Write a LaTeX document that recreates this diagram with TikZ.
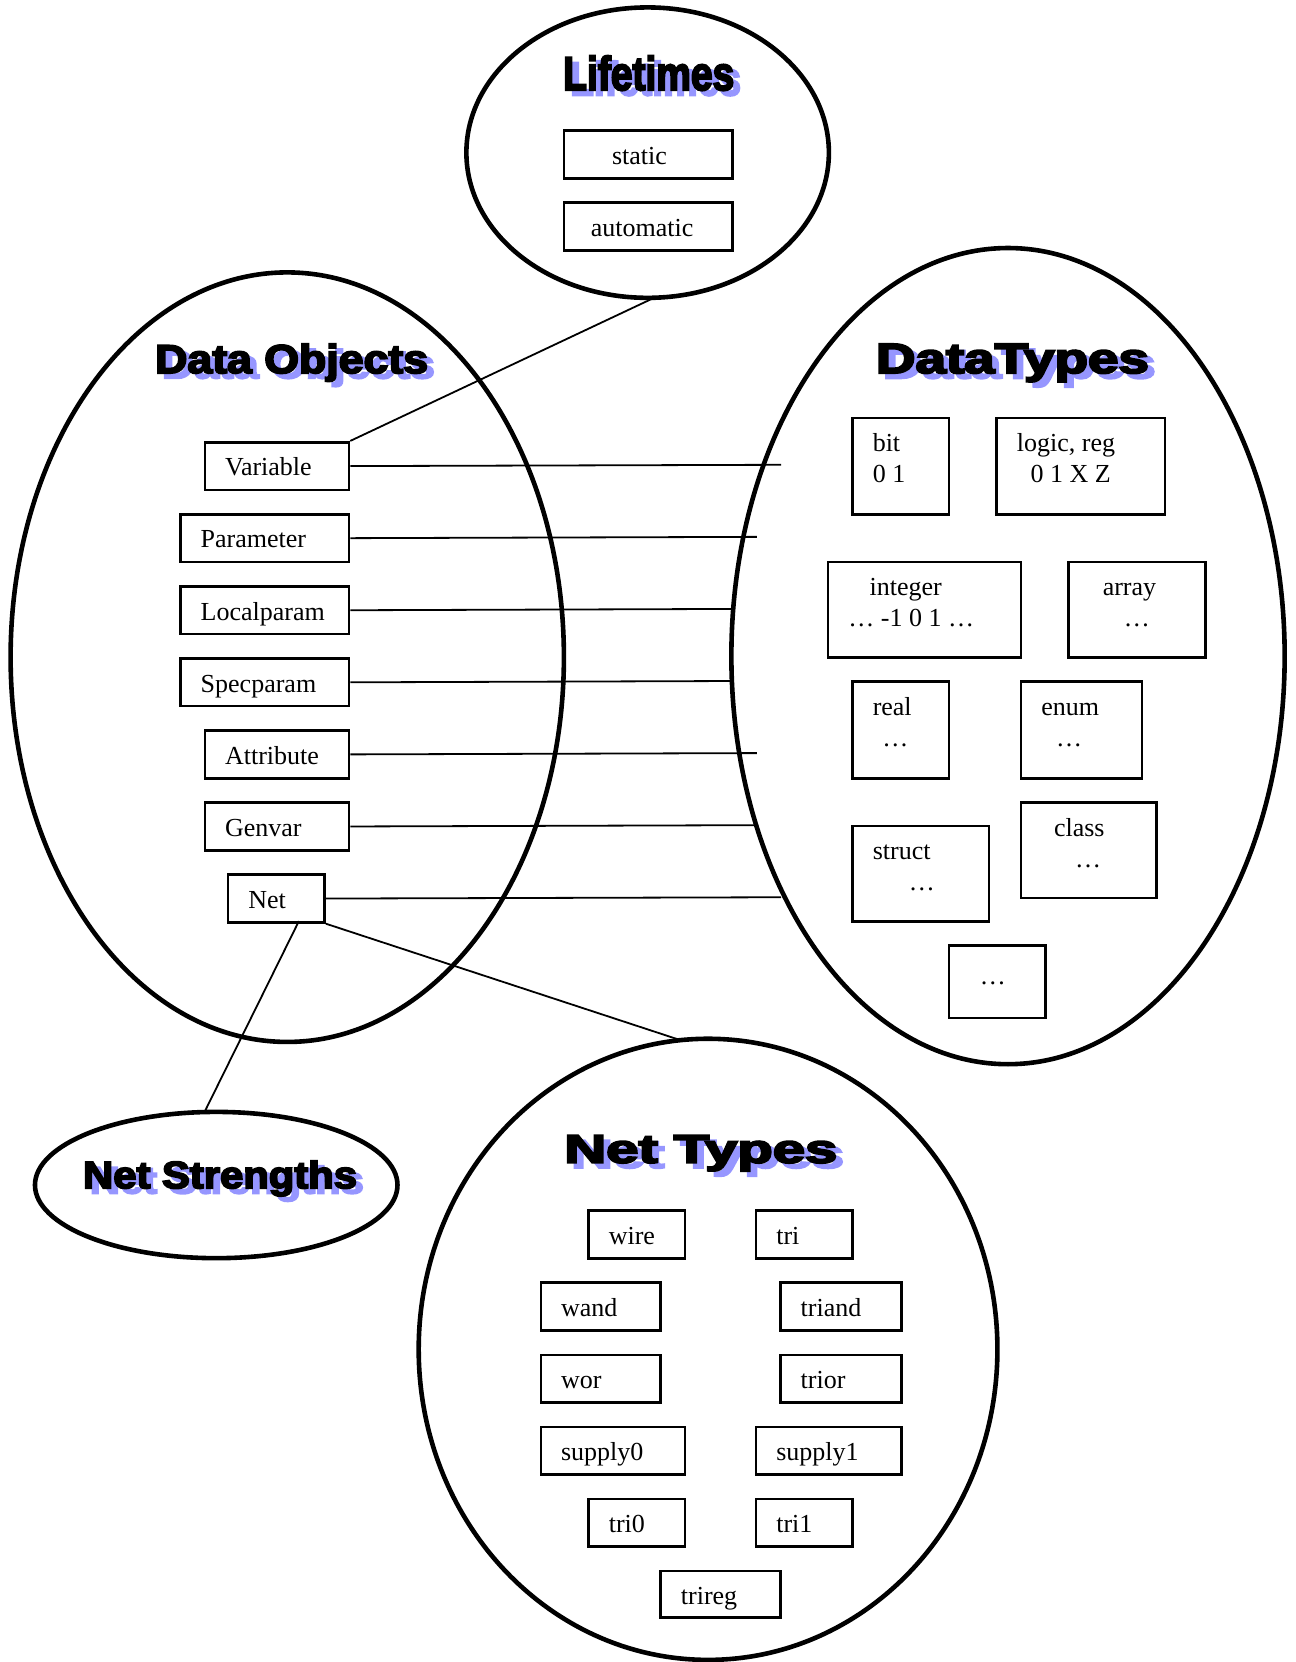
\documentclass[tikz,border=0pt]{standalone}
\usepackage{graphicx}
\usepackage{fontspec}
\setmainfont{Liberation Serif}
\newfontfamily\titlefont[FakeBold=4.5]{Liberation Sans Bold}
\usetikzlibrary{shapes.geometric}
\definecolor{shadowblue}{RGB}{150,150,255}
\tikzset{
  x=0.53pt, y=-0.53pt,
  ell/.style 2 args={draw, ellipse, line width=2.3pt, inner sep=0pt,
    minimum width={(#1)*0.53pt}, minimum height={(#2)*0.53pt}},
  box/.style 2 args={draw, rectangle, line width=1.3pt, inner sep=0pt,
    anchor=north west, minimum width={(#1)*0.53pt}, minimum height={(#2)*0.53pt}},
  txt/.style={anchor=base west, inner sep=0pt, font=\fontsize{13}{15}\selectfont},
  conn/.style={line width=0.9pt},
  ttl/.style={anchor=base west, inner sep=0pt}
}
\newcommand\bx[5]{\node[box={#4-#2}{#5-#3}] (#1) at (#2,#3) {};}
\newcommand\tx[4]{\node[txt] (#1) at (#2,#3) {#4};}
\newcommand\titleat[6]{%
  \node[ttl, text=shadowblue, xshift=3.4pt, yshift=-2.6pt] (#1s) at (#2,#3)
    {\resizebox{#4}{#5}{\fontsize{20}{24}\titlefont #6}};
  \node[ttl] (#1) at (#2,#3)
    {\resizebox{#4}{#5}{\fontsize{20}{24}\titlefont #6}};}
\begin{document}
\begin{tikzpicture}
\useasboundingbox (0,0) rectangle (1222,1568);
% ellipses
\node[ell={342}{274}] (life) at (611,144) {};
\node[ell={522}{726}] (dobj) at (271,620) {};
\node[ell={522}{770}] (dtyp) at (951,619) {};
\node[ell={342}{138}] (nstr) at (204,1118) {};
\node[ell={546}{586}] (ntyp) at (668,1273) {};
% titles
\titleat{tlife}{531}{85}{85.5pt}{17.2pt}{Lifetimes}
\titleat{tdobj}{146}{352}{136.5pt}{14.6pt}{Data Objects}
\titleat{tdtyp}{826}{352}{136.5pt}{14.6pt}{DataTypes}
\titleat{tnstr}{78}{1121}{137pt}{13.8pt}{Net Strengths}
\titleat{tntyp}{532}{1097}{136.5pt}{13.8pt}{Net Types}
% Lifetimes
\bx{static}{531}{122}{690}{167} \tx{tstatic}{577}{155}{static}
\bx{auto}{531}{190}{690}{235} \tx{tauto}{557}{223}{automatic}
% Data Objects
\bx{var}{192}{416}{328}{461} \tx{tvar}{212}{449}{Variable}
\bx{par}{169}{484}{328}{529} \tx{tpar}{189}{517}{Parameter}
\bx{loc}{169}{552}{328}{597} \tx{tloc}{189}{585}{Localparam}
\bx{spec}{169}{620}{328}{665} \tx{tspec}{189}{653}{Specparam}
\bx{attr}{192}{688}{328}{733} \tx{tattr}{212}{721}{Attribute}
\bx{gen}{192}{756}{328}{801} \tx{tgen}{212}{789}{Genvar}
\bx{net}{214}{824}{305}{869} \tx{tnet}{234}{857}{Net}
% Data Types
\bx{bit}{803}{393}{894}{484} \tx{tbit}{823}{426}{bit} \tx{tbitv}{823}{455}{0 1}
\bx{logic}{939}{393}{1098}{484} \tx{tlogic}{959}{426}{logic, reg} \tx{tlogicv}{972}{455}{0 1 X Z}
\bx{integer}{780}{529}{962}{619} \tx{tint}{820}{562}{integer} \tx{tintv}{800}{591}{… -1 0 1 …}
\bx{array}{1007}{529}{1136}{619} \tx{tarr}{1040}{562}{array} \tx{tarrv}{1060}{591}{…}
\bx{real}{803}{642}{894}{733} \tx{treal}{823}{675}{real} \tx{trealv}{832}{704}{…}
\bx{enum}{962}{642}{1076}{733} \tx{tenum}{982}{675}{enum} \tx{tenumv}{996}{704}{…}
\bx{class}{962}{756}{1090}{846} \tx{tclass}{994}{789}{class} \tx{tclassv}{1014}{818}{…}
\bx{struct}{803}{778}{932}{868} \tx{tstruct}{823}{811}{struct} \tx{tstructv}{857}{840}{…}
\bx{more}{894}{891}{985}{959} \tx{tmore}{924}{929}{…}
% Net Types
\bx{wire}{554}{1141}{645}{1186} \tx{twire}{574}{1174}{wire}
\bx{tri}{712}{1141}{803}{1186} \tx{ttri}{732}{1174}{tri}
\bx{wand}{509}{1209}{622}{1254} \tx{twand}{529}{1242}{wand}
\bx{triand}{735}{1209}{849}{1254} \tx{ttriand}{755}{1242}{triand}
\bx{wor}{509}{1277}{622}{1322} \tx{twor}{529}{1310}{wor}
\bx{trior}{735}{1277}{849}{1322} \tx{ttrior}{755}{1310}{trior}
\bx{supA}{509}{1345}{645}{1390} \tx{tsupA}{529}{1378}{supply0}
\bx{supB}{712}{1345}{849}{1390} \tx{tsupB}{732}{1378}{supply1}
\bx{triA}{554}{1413}{645}{1458} \tx{ttriA}{574}{1446}{tri0}
\bx{triB}{712}{1413}{803}{1458} \tx{ttriB}{732}{1446}{tri1}
\bx{trireg}{622}{1481}{735}{1525} \tx{ttrireg}{642}{1514}{trireg}
% connector end points
\coordinate (eVar) at (737,438.5);
\coordinate (ePar) at (714,506.5);
\coordinate (eLoc) at (691,574.5);
\coordinate (eSpec) at (690,642.5);
\coordinate (eAttr) at (714,710.5);
\coordinate (eGen) at (712,778.5);
\coordinate (eNet) at (737,846.5);
\coordinate (lifeB) at (617,281);
\coordinate (netB) at (282,869);
\coordinate (nstrT) at (193,1049);
\coordinate (ntypT) at (641,981);
% connectors
\draw[conn] (var.east) -- (eVar);
\draw[conn] (par.east) -- (ePar);
\draw[conn] (loc.east) -- (eLoc);
\draw[conn] (spec.east) -- (eSpec);
\draw[conn] (attr.east) -- (eAttr);
\draw[conn] (gen.east) -- (eGen);
\draw[conn] (net.east) -- (eNet);
\draw[conn] (var.north east) -- (lifeB);
\draw[conn] (netB) -- (nstrT);
\draw[conn] (net.south east) -- (ntypT);
\end{tikzpicture}
\end{document}
